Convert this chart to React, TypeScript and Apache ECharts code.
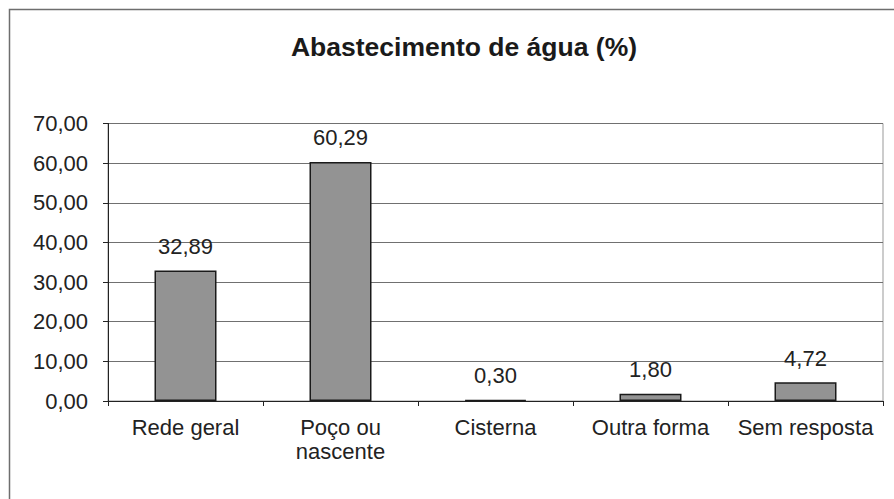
import React, { useEffect, useRef } from "react";
import * as echarts from "echarts";

const categories = ["Rede geral", "Poço ou\nnascente", "Cisterna", "Outra forma", "Sem resposta"];
const values = [32.89, 60.29, 0.3, 1.8, 4.72];
const yMin = 0;
const yMax = 70;
const yStep = 10;

const fmt = (v: number) => v.toFixed(2).replace(".", ",");

export default function App() {
  const ref = useRef<HTMLDivElement>(null);
  useEffect(() => {
    if (!ref.current) return;
    const chart = echarts.init(ref.current, null, { renderer: "svg" });
    const font = "'Liberation Sans', Arial, sans-serif";
    chart.setOption({
      animation: false,
      backgroundColor: "#ffffff",
      title: {
        text: "Abastecimento de água (%)",
        left: 459,
        textAlign: "center",
        top: 28,
        textStyle: { fontFamily: font, fontSize: 26.5, fontWeight: "bold", color: "#1a1a1a" },
      },
      graphic: [
        {
          type: "rect",
          shape: { x: 9.5, y: 9.5, width: 1000, height: 1000 },
          style: { fill: "none", stroke: "#6e6e6e", lineWidth: 1.5 },
          silent: true,
        },
      ],
      grid: { left: 108, right: 11, top: 123.5, bottom: 98, show: true, borderColor: "#999", borderWidth: 1 },
      xAxis: {
        type: "category",
        data: categories,
        axisLine: { lineStyle: { color: "#222", width: 1 } },
        axisTick: { show: true, length: 5, alignWithLabel: false, lineStyle: { color: "#222" } },
        axisLabel: { fontFamily: font, fontSize: 22, color: "#222", margin: 14, lineHeight: 24, interval: 0 },
      },
      yAxis: {
        type: "value",
        min: yMin,
        max: yMax,
        interval: yStep,
        axisLine: { show: true, lineStyle: { color: "#222", width: 1 } },
        axisTick: { show: true, length: 5, lineStyle: { color: "#222" } },
        axisLabel: { fontFamily: font, fontSize: 22, color: "#222", margin: 20, formatter: (v: number) => fmt(v) },
        splitLine: { show: true, lineStyle: { color: "#707070", width: 1 } },
      },
      series: [
        {
          type: "bar",
          data: values,
          barWidth: "40%",
          itemStyle: { color: "#939393", borderColor: "#1a1a1a", borderWidth: 1.5 },
          label: {
            show: true,
            position: "top",
            distance: 13,
            fontFamily: font,
            fontSize: 22,
            color: "#222",
            formatter: (p: any) => fmt(p.value),
          },
        },
      ],
    });
    return () => chart.dispose();
  }, []);
  return <div ref={ref} style={{ position: "fixed", left: 0, top: 0, width: 894, height: 499 }} />;
}
